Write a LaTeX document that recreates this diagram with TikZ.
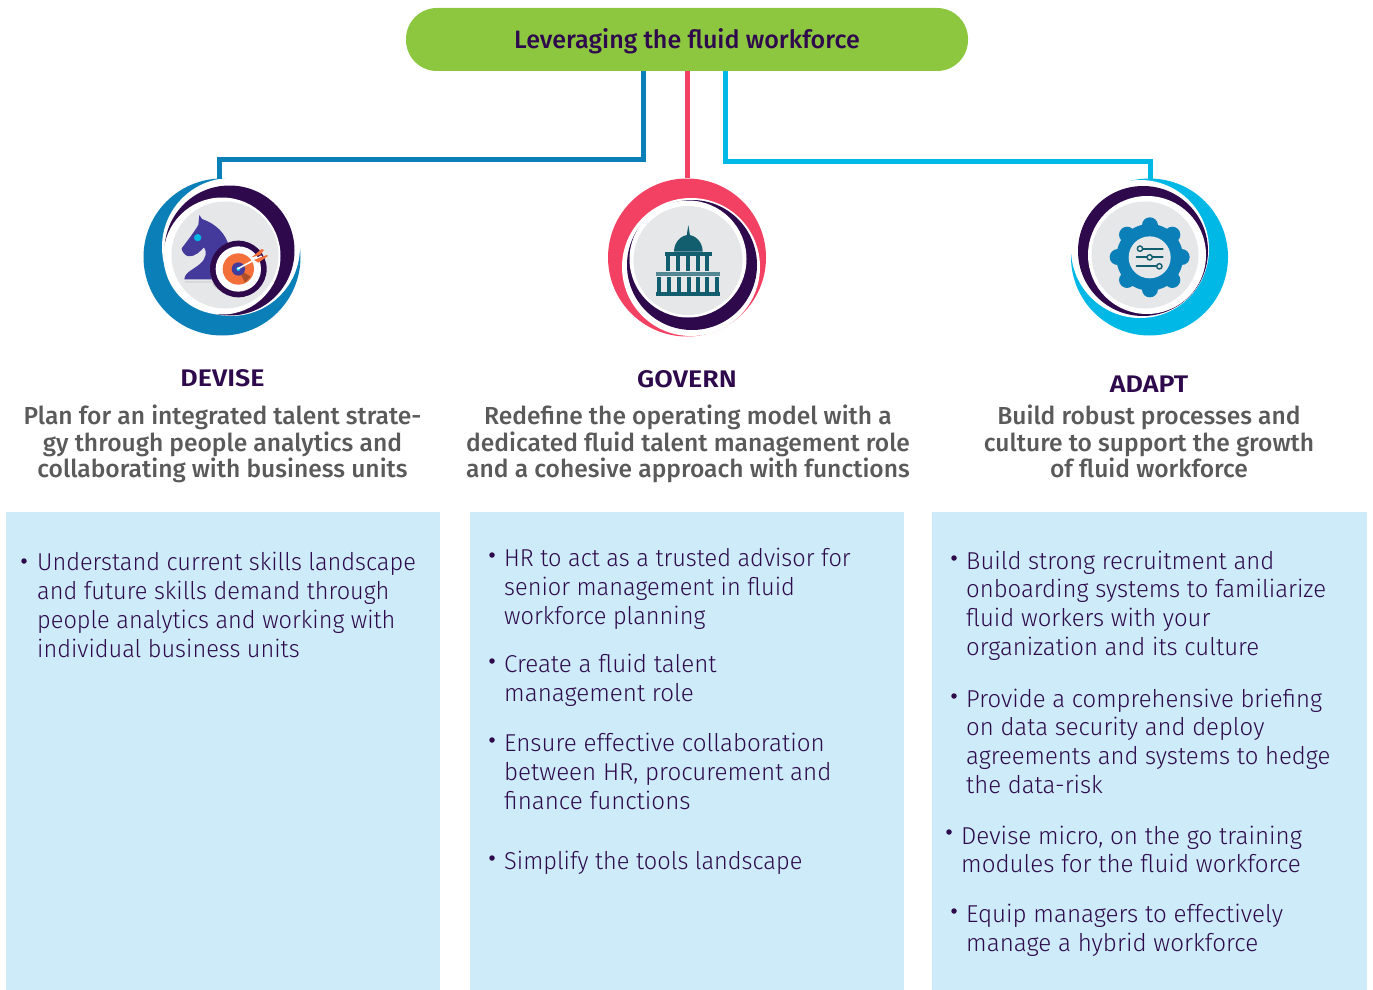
\documentclass[tikz,border=0pt]{standalone}
\usepackage{fontspec}
\setmainfont{Fira Sans}
\newfontfamily\bodyf[FakeStretch=0.98]{Fira Sans Light}
\newfontfamily\bodyn[FakeStretch=0.965]{Fira Sans Light}
\newfontfamily\bodyw[FakeStretch=0.99]{Fira Sans Light}
\newfontfamily\medf{Fira Sans Medium}
\newfontfamily\headf[FakeStretch=1.12]{Fira Sans SemiBold}
\definecolor{ink}{HTML}{2E0A4D}
\definecolor{subink}{HTML}{5A5A5A}
\definecolor{panel}{HTML}{CDEBF8}
\definecolor{pill}{HTML}{8DC63F}
\definecolor{cdev}{HTML}{0A7FB8}
\definecolor{cgov}{HTML}{F24162}
\definecolor{cada}{HTML}{00B8E6}
\definecolor{disc}{HTML}{E6E7E9}
\definecolor{teal}{HTML}{135E6E}
\definecolor{horse}{HTML}{433A9C}
\definecolor{orng}{HTML}{F4703A}
\newcommand{\topstrut}{\rule{0pt}{.7\baselineskip}}
\tikzset{
  panelbox/.style={fill=panel,draw=none,inner sep=0pt,anchor=north west},
  conn/.style={line width=5pt},
  head/.style={font=\headf\fontsize{24}{26}\selectfont,text=ink,inner sep=0pt,anchor=base},
  sub/.style={font=\medf\fontsize{24.6}{26.5}\selectfont,text=subink,inner sep=0pt,align=center,anchor=north},
  item/.style={font=\bodyf\fontsize{24.4}{28.8}\selectfont,text=ink,inner sep=0pt,align=left,anchor=north west},
  itemn/.style={item,font=\bodyn\fontsize{24.4}{29}\selectfont},
  itemw/.style={item,font=\bodyw\fontsize{24.4}{29}\selectfont},
  dot/.style={circle,fill=ink,inner sep=0pt,minimum size=5.5pt},
}
\newcommand{\ringicon}[9]{%
  \fill[#1] #2 circle (#3);
  \fill[white] #4 circle (#5);
  \fill[ink] #6 circle (65);
  \fill[white] #7 circle (#9);
  \fill[disc] #8;
}
\begin{document}
\begin{tikzpicture}[x=1pt,y=-1pt]
\useasboundingbox (0,0) rectangle (1373,990);
% panels
\node[panelbox,minimum width=434pt,minimum height=478pt] (p1) at (6,512) {};
\node[panelbox,minimum width=434pt,minimum height=478pt] (p2) at (470,512) {};
\node[panelbox,minimum width=435pt,minimum height=478pt] (p3) at (932,512) {};
% title
\node[fill=pill,rounded corners=31pt,minimum width=562pt,minimum height=63pt,inner sep=0pt,font=\medf\fontsize{25.1}{26}\selectfont,text=ink] (title) at (687,39.5) {\rule{0pt}{23pt}Leveraging the fluid workforce};
% icon rings
\ringicon{cdev}{(222,257)}{78.5}{(231,247)}{69}{(229.5,250.5)}{(222,256)}{(225,255) circle (53.5)}{58.5}
\ringicon{cgov}{(687,257.5)}{79}{(691,267)}{69}{(692,265)}{(688,259)}{(688,260.5) circle (54.5)}{58.5}
\ringicon{cada}{(1149.5,257)}{78.5}{(1140,249)}{69}{(1143,251)}{(1147,255)}{(1145,255) circle (53.5)}{59}
\node[circle,inner sep=0pt,minimum size=157pt] (dev) at (222,257) {};
\node[circle,inner sep=0pt,minimum size=158pt] (gov) at (687,257.5) {};
\node[circle,inner sep=0pt,minimum size=157pt] (ada) at (1149.5,257) {};
% connectors
\coordinate (devA) at (643,159);
\coordinate (devB) at (219,179);
\coordinate (adaA) at (725,161);
\coordinate (adaB) at (1150,179);
\draw[conn,cdev] (title.south -| devA) -- (devA) -- (devA -| devB) -- (devB);
\draw[conn,cgov] (title.south) -- (gov.north);
\draw[conn,cada] (title.south -| adaA) -- (adaA) -- (adaA -| adaB) -- (adaB);
% horse and target
\begin{scope}[shift={(130,170)},x=1/3*1pt,y=-1/3*1pt]
  \fill[black!15] (165,332) rectangle (250,340);
  \fill[horse] (208,135) -- (216,147) .. controls (255,160) and (290,190) .. (298,235) -- (260,328) -- (163,328) .. controls (165,305) and (190,300) .. (212,280) .. controls (228,265) and (232,245) .. (222,232) .. controls (212,240) and (200,262) .. (172,258) .. controls (165,255) and (155,245) .. (155,235) .. controls (170,215) and (190,190) .. (205,165) -- cycle;
  \fill[cada] (203,203) circle (11);
  \fill[black!25] (250,345) .. controls (265,365) and (290,370) .. (300,368) -- (360,300) -- (240,300) -- cycle;
  \fill[ink] (325,297) circle (85);
  \fill[white] (325,297) circle (68);
  \fill[orng] (325,297) circle (47);
  \fill[black!30!orng] (325,297) -- (362,320) -- (345,338) -- cycle;
  \fill[horse] (325,297) circle (20);
  \fill[cada] (325,297) circle (6);
  \draw[white,line width=1.6pt] (322,297) -- (395,258);
  \fill[orng] (365,262) -- (395,237) -- (402,240) -- (390,255) -- cycle;
  \fill[orng] (372,270) -- (410,255) -- (414,258) -- (385,278) -- cycle;
\end{scope}
% capitol
\begin{scope}[shift={(600,170)},x=1/3*1pt,y=-1/3*1pt]
  \fill[teal] (168,367) rectangle (360,378);
  \foreach \c in {172,200,230,260,288,315,345} \fill[teal] (\c,320) rectangle ++(12,47);
  \fill[teal!70!disc] (168,306) rectangle (360,318);
  \foreach \c in {198,228,258,288,315} \fill[teal] (\c,257) rectangle ++(12,46);
  \fill[teal] (195,245) rectangle (335,257);
  \fill[teal] (222,245) .. controls (222,215) and (245,195) .. (265,195) .. controls (285,195) and (308,215) .. (308,245) -- cycle;
  \fill[teal] (265,165) -- (270,197) -- (260,197) -- cycle;
\end{scope}
% gear
\begin{scope}[shift={(1060,170)},x=1/3*1pt,y=-1/3*1pt]
  \fill[cdev] (269,262) circle (100);
  \foreach \a in {0,45,...,315} \draw[cdev,line width=16pt,line cap=round] (269,262) ++(\a:80) -- ++(\a:16);
  \fill[disc] (269,262) circle (63);
  \draw[teal,line width=2.2pt,line cap=round] (240,236) -- (308,236);
  \draw[teal,line width=2.2pt,line cap=round] (230,262) -- (308,262);
  \draw[teal,line width=2.2pt,line cap=round] (230,289) -- (298,289);
  \draw[teal,fill=disc,line width=1.4pt] (240,236) circle (8);
  \draw[teal,fill=disc,line width=1.4pt] (269,262) circle (8);
  \draw[teal,fill=disc,line width=1.4pt] (298,289) circle (8);
\end{scope}
% headings
\node[head] (h1) at (222.5,386) {DEVISE};
\node[head] (h2) at (687,387) {GOVERN};
\node[head] (h3) at (1149,392) {ADAPT};
\node[sub] (s1) at (222.5,405) {\topstrut Plan for an integrated talent strate-\\gy through people analytics and\\collaborating with business units};
\node[sub] (s2) at (688,405) {\topstrut Redefine the operating model with a\\dedicated fluid talent management role\\and a cohesive approach with functions};
\node[sub] (s3) at (1149,405) {\topstrut Build robust processes and\\culture to support the growth\\of fluid workforce};
% column 1
\node[dot] (b11) at (24,561) {};
\node[itemn,font=\bodyn\fontsize{24.4}{28.7}\selectfont] (t11) at (37,550.7) {\topstrut Understand current skills landscape\\and future skills demand through\\people analytics and working with\\individual business units};
% column 2
\node[dot] (b21) at (492,555) {};
\node[itemn] (t21) at (504,545.7) {\topstrut HR to act as a trusted advisor for\\senior management in fluid\\workforce planning};
\node[dot] (b22) at (492,661) {};
\node[itemw] (t22) at (504,651.7) {\topstrut Create a fluid talent\\management role};
\node[dot] (b23) at (492,740) {};
\node[itemw] (t23) at (504,730.7) {\topstrut Ensure effective collaboration\\between HR, procurement and\\finance functions};
\node[dot] (b24) at (492,858) {};
\node[itemn] (t24) at (504,848.7) {\topstrut Simplify the tools landscape};
% column 3
\node[dot] (b31) at (954,558) {};
\node[item] (t31) at (966,548.7) {\topstrut Build strong recruitment and\\onboarding systems to familiarize\\fluid workers with your\\organization and its culture};
\node[dot] (b32) at (954,696) {};
\node[item] (t32) at (966,686.7) {\topstrut Provide a comprehensive briefing\\on data security and deploy\\agreements and systems to hedge\\the data-risk};
\node[dot] (b33) at (949,832) {};
\node[itemw,font=\bodyw\fontsize{24.4}{28}\selectfont] (t33) at (961,824.5) {\topstrut Devise micro, on the go training\\modules for the fluid workforce};
\node[dot] (b34) at (954,911) {};
\node[itemw] (t34) at (966,901.7) {\topstrut Equip managers to effectively\\manage a hybrid workforce};
\end{tikzpicture}
\end{document}
